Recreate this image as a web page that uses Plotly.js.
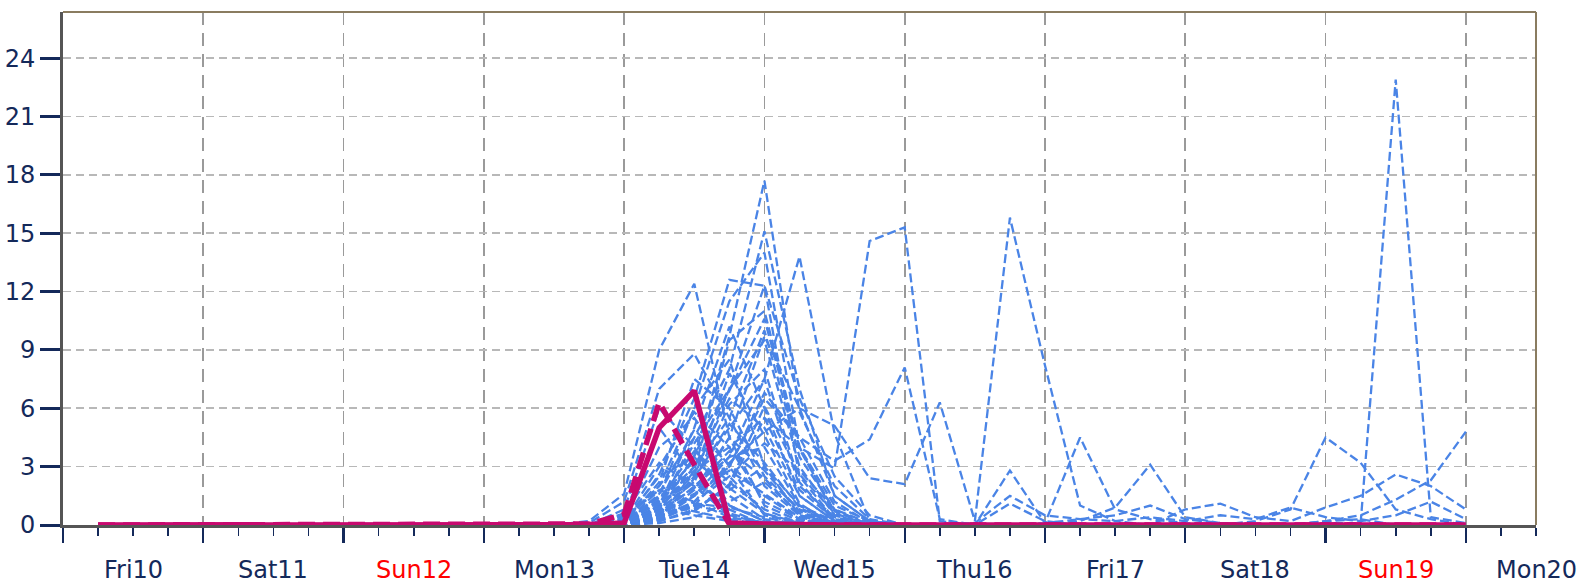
<!DOCTYPE html>
<html><head><meta charset="utf-8">
<script src="https://cdn.plot.ly/plotly-3.0.1.min.js"></script>
<style>html,body{margin:0;padding:0;background:#fff}#chart{width:1581px;height:584px}</style>
</head><body><div id="chart"></div>
<script>
// 6-hourly valid times
const times = [
 '2023-03-10 06:00','2023-03-10 12:00','2023-03-10 18:00',
 '2023-03-11 00:00','2023-03-11 06:00','2023-03-11 12:00','2023-03-11 18:00',
 '2023-03-12 00:00','2023-03-12 06:00','2023-03-12 12:00','2023-03-12 18:00',
 '2023-03-13 00:00','2023-03-13 06:00','2023-03-13 12:00','2023-03-13 18:00',
 '2023-03-14 00:00','2023-03-14 06:00','2023-03-14 12:00','2023-03-14 18:00',
 '2023-03-15 00:00','2023-03-15 06:00','2023-03-15 12:00','2023-03-15 18:00',
 '2023-03-16 00:00','2023-03-16 06:00','2023-03-16 12:00','2023-03-16 18:00',
 '2023-03-17 00:00','2023-03-17 06:00','2023-03-17 12:00','2023-03-17 18:00',
 '2023-03-18 00:00','2023-03-18 06:00','2023-03-18 12:00','2023-03-18 18:00',
 '2023-03-19 00:00','2023-03-19 06:00','2023-03-19 12:00','2023-03-19 18:00',
 '2023-03-20 00:00'
];
// values Fri10 06:00 .. Mon13 12:00 (dry for every member)
const dryLead = [0,0,0,0,0,0,0,0,0,0,0,0,0,0];

// ensemble members, values from Mon13 18:00 to Mon20 00:00
const members = [
 [0.2,1.6,9.0,12.4,4.5,1.0,0.2,0,0,0,0,0,0,0,0,0,0,0,0,0,0,0,0,0,0,0],
 [0.1,1.2,7.0,8.8,5.5,2.0,0.5,0.1,0,0,0,0,0,0,0,0,0,0,0,0,0,0,0,0,0,0],
 [0,0.8,6.0,4.0,1.0,0.2,0,0,0,0,0,0,0,0,0,0,0,0,0,0,0,0.1,0.1,22.9,0.4,0.1],
 [0,0.5,5.0,2.5,0.8,0,0,0,0,0,0,0,0,0,0,0,0,0,0,0,0,0.2,0.5,1.3,2.3,4.8],
 [0,0.3,4.0,5.5,3.0,0.5,0.1,0,0,0,0,0,0,0,0,0,0,0,0,0,0,0,0,0,0,0],
 [0,0.6,3.2,2.0,0.5,0.1,0,0,0,0,0,0,0,0,0,0,0,0.8,1.1,0.4,0.2,0.9,1.5,2.6,2.0,0.8],
 [0,0.2,2.5,3.5,1.5,0.3,0,0,0,0,0,0,2.8,0.1,0.3,0.5,1.0,0.3,0.1,0,0,0.2,0.3,0,0,0],
 [0,0.4,1.8,1.2,0.4,0.1,0,0,0,0,0,0,0,0,0,0,0,0,0,0,0,0,0,0,0,0],
 [0,0.1,1.2,2.2,1.0,0.2,0,0,0,0,0,0,0,0.1,4.5,0.8,0.3,0.1,0,0,0,0,0,0,0,0],
 [0,0.2,0.8,0.5,0.2,0,0,0,0,0,0,0,0,0,0,0,0,0,0,0,0,0,0,0,0,0],
 [0,0,0.5,1.0,0.6,0.1,0,0,0,0,0,0,0,0,0.2,0.9,3.1,0.4,0.1,0,0,0,0,0,0,0],
 [0,0.3,2.0,4.5,2.5,0.6,0.1,0,0,0,0,0,0,0,0,0,0,0,0,0.2,0.8,4.5,3.2,0.8,0.3,0],
 [0,0.2,1.5,6.0,8.5,3.0,0.5,0,0,0,0,0,0,0,0,0,0,0,0,0,0,0,0,0,0,0],
 [0,0.1,2.2,7.5,6.0,2.5,0.8,0.1,0,0,0,0,0,0,0,0,0,0,0,0,0,0,0,0,0,0],
 [0,0,1.0,4.2,7.0,9.5,3.0,0.5,0,0,0,0,0,0,0,0,0,0,0,0,0,0,0,0,0,0],
 [0,0.2,3.0,5.8,4.0,1.2,0.3,0,0,0,0,0,0,0,0,0,0,0,0,0,0,0,0,0,0,0],
 [0,0,0.8,3.0,6.5,5.0,1.5,0.2,0,0,0,0,0,0,0,0,0,0,0,0,0,0,0,0,0,0],
 [0,0.1,1.8,2.5,5.0,7.5,2.0,0.4,0,0,0,0,0,0,0,0,0,0,0,0,0,0,0,0,0,0],
 [0,0,0.5,2.0,3.5,4.0,1.0,0.1,0,0,0,0.1,1.5,0.5,0.3,0.2,0.4,0.2,0.5,0.3,0.9,0.4,0.2,0.5,1.2,0.3],
 [0,0.1,1.3,3.8,2.2,0.8,0.1,0,0,0,0,0,0,0,0,0,0,0,0,0,0,0,0,0,0,0],
 [0,0,0.6,1.5,4.5,2.8,0.7,0,0,0,0,0,0,0,0,0,0,0,0,0,0,0,0,0,0,0],
 [0,0,0.3,2.8,9.5,11.0,4.0,1.0,0.2,0,0,0,0,0,0,0,0,0,0,0,0,0,0,0,0,0],
 [0,0.1,2.6,6.5,12.6,12.3,2.5,0.3,0,0,0,0,0,0,0,0,0,0,0,0,0,0,0,0,0,0],
 [0,0,1.0,5.0,10.2,6.0,1.5,0.2,0,0,0,0,0,0,0,0,0,0,0,0,0,0,0,0,0,0],
 [0,0.1,1.0,3.5,9.7,17.7,5.8,2.0,0.3,0,0,0,0,0,0,0,0,0,0,0,0,0,0,0,0,0],
 [0,0,0.8,4.5,8.0,15.1,7.0,1.5,0.2,0,0,0,0,0,0,0,0,0,0,0,0,0,0,0,0,0],
 [0,0.2,2.0,6.0,11.5,14.0,4.0,0.5,0,0,0,0,0,0,0,0,0,0,0,0,0,0,0,0,0,0],
 [0,0,0.5,2.5,7.0,12.3,6.5,2.5,0.5,0,0,0,0,0,0,0,0,0,0,0,0,0,0,0,0,0],
 [0,0.1,1.2,3.0,5.5,10.0,3.5,0.8,0,0,0,0,0,0,0,0,0,0,0,0,0,0,0,0,0,0],
 [0,0,0.4,1.8,4.5,9.7,6.0,1.5,0.2,0,0,0,0,0,0,0,0,0,0,0,0,0,0,0,0,0],
 [0,0,0.8,2.2,6.2,8.0,2.2,0.2,0,0,0,0,0,0,0,0,0,0,0,0,0,0,0,0,0,0],
 [0,0,0.3,1.0,3.0,6.8,4.5,1.2,0.1,0,0,0,0,0,0,0,0,0,0,0,0,0,0,0,0,0],
 [0,0.1,0.9,2.8,4.0,5.5,1.8,0.3,0,0,0,0,0,0,0,0,0,0,0,0,0,0,0,0,0,0],
 [0,0,0.2,1.2,2.5,4.2,2.8,0.8,0.1,0,0,0,0,0,0,0,0,0,0,0,0,0,0,0,0,0],
 [0,0,0.5,0.9,1.8,3.0,1.0,0.2,0,0,0,0,0,0,0,0,0,0,0,0,0,0,0,0,0,0],
 [0,0,0.3,1.5,3.5,7.5,13.8,4.7,0.2,0,0,0,0,0,0,0,0,0,0,0,0,0,0,0,0,0],
 [0,0,0.2,0.8,2.0,5.5,4.0,2.9,14.6,15.3,0.2,0,0,0,0,0,0,0,0,0,0,0,0,0,0,0],
 [0,0,0.5,1.5,3.0,6.5,4.5,3.3,4.4,8.1,0.3,0,0,0,0,0,0,0,0,0,0,0,0,0,0,0],
 [0,0,0.4,1.2,3.2,4.8,6.0,5.1,2.4,2.1,6.3,0.2,15.8,8.2,1.0,0.2,0,0,0,0,0,0,0,0,0,0],
 [0,0.1,0.6,1.6,2.8,1.6,0.4,0,0,0,0,0,1.1,0.2,0,0,0,0,0,0,0,0,0,0,0,0],
 [0,0,0.3,2.4,5.2,3.2,0.9,0,0,0,0,0,0,0,0,0,0,0,0,0,0,0,0,0,0,0],
 [0,0.2,1.4,3.3,1.9,0.6,0,0,0,0,0,0,0,0,0,0,0,0,0,0,0,0,0,0,0,0],
 [0,0,0.2,0.7,2.1,6.1,2.6,0.6,0,0,0,0,0,0,0,0,0,0,0,0,0,0,0,0,0,0],
 [0,0.1,0.7,1.9,3.8,2.4,0.5,0,0,0,0,0,0,0,0,0,0,0,0,0,0,0,0,0,0,0],
 [0,0,0.4,1.1,0.9,0.4,0,0,0,0,0,0,0,0,0,0,0,0,0,0,0,0,0,0,0,0],
 [0,0.1,0.9,2.6,7.8,4.6,1.1,0,0,0,0,0,0,0,0,0,0,0,0,0,0,0,0,0,0,0],
 [0,0,0.6,3.6,6.9,10.6,3.9,0.7,0,0,0,0,0,0,0,0,0,0,0,0,0,0,0,0,0,0],
 [0,0.2,1.1,0.7,0.3,0,0,0,0,0,0,0,0,0,0,0,0,0,0,0,0,0,0,0,0,0],
 [0,0,1.6,4.9,3.1,1.5,0.3,0,0,0,0,0,0,0,0,0,0,0,0,0,0,0,0,0,0,0],
 [0,0,0.1,0.4,1.2,2.2,0.6,0,0,0,0,0,0,0,0,0,0,0,0,0,0,0,0,0,0,0]
];
// deterministic (solid) and second highlighted run (dashed), Mon13 18:00 onward
const mainRun = [0.02,0.1,5.0,6.9,0.1,0.05,0,0,0,0,0,0,0,0,0,0,0,0,0,0,0,0,0,0,0,0];
const altRun  = [0.05,0.55,6.3,3.1,0.05,0,0,0,0,0,0,0,0,0,0,0,0,0,0,0,0,0,0,0,0,0];

const dayLabels = ['Fri10','Sat11','Sun12','Mon13','Tue14','Wed15','Thu16','Fri17','Sat18','Sun19','Mon20'];
const labelTimes = ['2023-03-10 12:00','2023-03-11 12:00','2023-03-12 12:00','2023-03-13 12:00',
 '2023-03-14 12:00','2023-03-15 12:00','2023-03-16 12:00','2023-03-17 12:00','2023-03-18 12:00',
 '2023-03-19 12:00','2023-03-20 12:00'];
const yTicks = [0,3,6,9,12,15,18,21,24];

const BLUE = '#4a84e6', MAG = '#c8096f', NAVY = '#14295a';
const FONT = 'DejaVu Sans, Liberation Sans, sans-serif';

const traces = members.map(m => ({
  x: times, y: dryLead.concat(m), type: 'scatter', mode: 'lines',
  line: {color: BLUE, width: 2.3, dash: '9px,4px'}, hoverinfo: 'skip', showlegend: false
}));
traces.push({x: times, y: dryLead.concat(mainRun), type: 'scatter', mode: 'lines',
  line: {color: MAG, width: 5.5}, hoverinfo: 'skip', showlegend: false});
traces.push({x: times, y: dryLead.concat(altRun), type: 'scatter', mode: 'lines',
  line: {color: MAG, width: 5.5, dash: '17px,8px'}, hoverinfo: 'skip', showlegend: false});

const annotations = dayLabels.map((d, i) => ({
  x: labelTimes[i], xref: 'x', y: 0, yref: 'paper', yshift: -45,
  text: d, showarrow: false, xanchor: 'center', yanchor: 'middle', borderpad: 0,
  font: {family: FONT, size: 24, color: d.startsWith('Sun') ? '#ff0000' : NAVY}
}));

const layout = {
  width: 1581, height: 584,
  margin: {l: 63, r: 45, t: 12, b: 59},
  paper_bgcolor: '#ffffff', plot_bgcolor: '#ffffff',
  showlegend: false,
  xaxis: {
    type: 'date', range: ['2023-03-10 00:00', '2023-03-20 12:00'],
    tickmode: 'linear', tick0: '2023-03-10 00:00', dtick: 86400000,
    showticklabels: false, ticks: 'outside', ticklen: 15, tickwidth: 2.2, tickcolor: NAVY,
    showgrid: true, gridcolor: '#9a9a9a', griddash: '13px,8px', gridwidth: 1.6,
    showline: true, linecolor: '#555555', linewidth: 2.5, zeroline: false,
    minor: {dtick: 21600000, tick0: '2023-03-10 00:00', ticks: 'outside', ticklen: 8,
            tickwidth: 1.6, tickcolor: NAVY, showgrid: false},
    fixedrange: true
  },
  yaxis: {
    range: [0, 26.37], tickmode: 'array', tickvals: yTicks, ticktext: yTicks.map(String),
    ticks: 'outside', ticklen: 20, tickwidth: 3, tickcolor: NAVY,
    tickfont: {family: FONT, size: 24, color: NAVY},
    showgrid: true, gridcolor: '#b8b8b8', griddash: '8px,5px', gridwidth: 1.6,
    showline: true, linecolor: '#555555', linewidth: 2.8, zeroline: false,
    fixedrange: true
  },
  annotations: annotations,
  shapes: [
    {type: 'line', xref: 'paper', yref: 'paper', x0: 0, x1: 1, y0: 1, y1: 1,
     line: {color: '#8a7c60', width: 2}, layer: 'above'},
    {type: 'line', xref: 'paper', yref: 'paper', x0: 1, x1: 1, y0: 0, y1: 1,
     line: {color: '#8a7c60', width: 2}, layer: 'above'}
  ]
};

Plotly.newPlot('chart', traces, layout, {displayModeBar: false, staticPlot: true});
</script>
</body></html>
